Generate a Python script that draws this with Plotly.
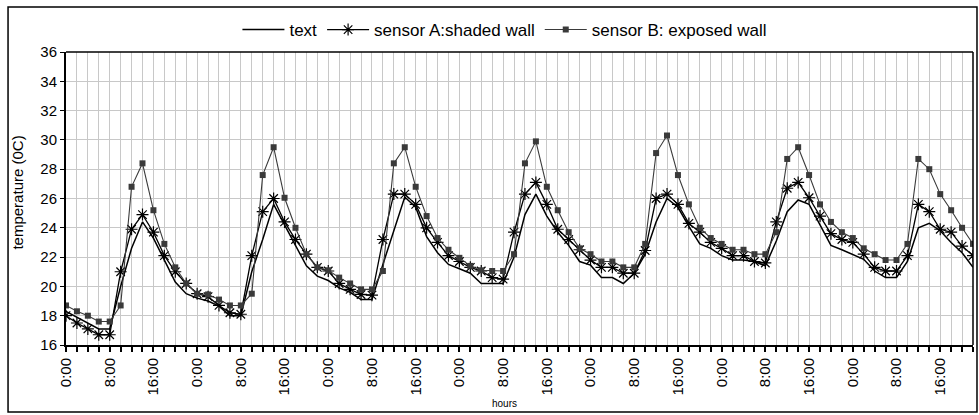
import plotly.graph_objects as go

hours = list(range(84))  # 2-hour steps over 7 days
tick_positions = list(range(0, 84, 4))
tick_labels = ["0:00", "8:00", "16:00"] * 7

text_temp = [
    18.3, 17.9, 17.5, 17.1, 17.1, 20.0, 22.6, 24.4, 23.3, 21.8, 20.3, 19.5,
    19.2, 19.0, 18.65, 18.0, 18.0, 21.0, 23.2, 25.6, 24.2, 22.8, 21.4, 20.7,
    20.4, 19.9, 19.6, 19.1, 19.1, 21.5, 23.8, 26.1, 25.4, 23.4, 22.3, 21.5,
    21.2, 20.9, 20.2, 20.2, 20.2, 22.0, 24.9, 26.3, 24.8, 23.7, 22.8, 21.7,
    21.45, 20.6, 20.6, 20.2, 20.9, 22.2, 24.4, 26.0, 25.4, 24.1, 22.9, 22.6,
    22.1, 21.8, 21.8, 21.7, 21.4, 23.1, 25.1, 25.9, 25.6, 24.2, 22.8, 22.5,
    22.2, 21.85, 21.05, 20.6, 20.6, 21.7, 24.0, 24.3, 23.8, 23.0, 22.3, 21.3,
]
sensor_a = [
    18.0, 17.5, 17.1, 16.7, 16.7, 21.0, 23.9, 24.9, 23.7, 22.1, 21.0, 20.2,
    19.5, 19.3, 18.7, 18.2, 18.1, 22.1, 25.1, 26.0, 24.4, 23.2, 22.2, 21.3,
    21.05, 20.2, 19.8, 19.45, 19.4, 23.2, 26.3, 26.3, 25.6, 24.0, 23.0, 22.1,
    21.7, 21.3, 21.05, 20.6, 20.5, 23.7, 26.3, 27.1, 25.6, 23.9, 23.2, 22.5,
    21.8, 21.3, 21.3, 20.9, 20.9, 22.45, 26.0, 26.3, 25.6, 24.3, 23.7, 23.0,
    22.6, 22.1, 22.1, 21.7, 21.6, 24.4, 26.7, 27.1, 26.05, 24.8, 23.6, 23.2,
    23.0, 22.2, 21.3, 21.05, 21.05, 22.1, 25.6, 25.1, 23.9, 23.7, 22.75, 22.1,
]
sensor_b = [
    18.7, 18.3, 18.0, 17.6, 17.6, 18.7, 26.8, 28.4, 25.2, 22.9, 21.3, 20.2,
    19.5, 19.45, 19.1, 18.7, 18.7, 19.5, 27.6, 29.5, 26.05, 24.0, 22.2, 21.3,
    21.1, 20.6, 20.2, 19.8, 19.8, 21.05, 28.4, 29.5, 26.8, 24.8, 23.3, 22.5,
    21.95, 21.4, 21.1, 21.05, 21.05, 22.2, 28.4, 29.9, 26.8, 25.2, 23.7, 22.6,
    22.2, 21.7, 21.7, 21.3, 21.3, 22.9, 29.1, 30.3, 27.6, 25.6, 24.0, 23.3,
    22.9, 22.5, 22.5, 22.2, 22.2, 23.7, 28.7, 29.5, 27.6, 25.6, 24.4, 23.7,
    23.3, 22.6, 22.2, 21.8, 21.8, 22.9, 28.7, 28.0, 26.3, 25.2, 24.0, 22.9,
]

FONT = "Liberation Sans, Arial, sans-serif"

fig = go.Figure()
fig.add_trace(go.Scatter(
    x=hours, y=text_temp, name="text", mode="lines",
    line=dict(color="black", width=1.5),
))
fig.add_trace(go.Scatter(
    x=hours, y=sensor_a, name="sensor A:shaded wall", mode="lines+markers",
    line=dict(color="black", width=1.3),
    marker=dict(symbol="asterisk-open", size=10, color="black",
                line=dict(color="black", width=1.2)),
))
fig.add_trace(go.Scatter(
    x=hours, y=sensor_b, name="sensor B: exposed wall", mode="lines+markers",
    line=dict(color="#3a3a3a", width=1.1),
    marker=dict(symbol="square", size=6, color="#3a3a3a"),
))

grid = "#c8c8c8"
fig.update_layout(
    width=979, height=415,
    margin=dict(l=66, r=6, t=52, b=70, autoexpand=False),
    paper_bgcolor="white", plot_bgcolor="white",
    font=dict(family=FONT, color="black", size=14),
    showlegend=True,
    legend=dict(orientation="h", x=0.189, xanchor="left", y=1.075, yanchor="middle",
                font=dict(size=17, family=FONT), bgcolor="rgba(0,0,0,0)",
                itemwidth=42, tracegroupgap=0),
    xaxis=dict(
        range=[0, 83], tickmode="array", tickvals=tick_positions, ticktext=tick_labels,
        tickangle=-90, ticks="outside", ticklen=5, tickwidth=2, tickcolor="black",
        showgrid=True, gridcolor=grid, gridwidth=1,
        showline=True, linecolor="black", linewidth=2, mirror=False,
        zeroline=False, tickfont=dict(size=15, family=FONT),
        minor=dict(tickmode="linear", tick0=0, dtick=1, ticks="outside", ticklen=5,
                   tickwidth=2, tickcolor="black", showgrid=True, gridcolor=grid, gridwidth=1),
    ),
    yaxis=dict(
        range=[16, 36], dtick=2, tick0=16, ticks="outside", ticklen=4, tickwidth=1,
        tickcolor="black", showgrid=True, gridcolor=grid, gridwidth=1,
        showline=True, linecolor="black", linewidth=2, zeroline=False,
        tickfont=dict(size=15, family=FONT),
    ),
    annotations=[
        dict(text="hours", xref="paper", yref="paper", x=0.484, y=-0.2, xanchor="center",
             yanchor="middle", showarrow=False, font=dict(size=10, family=FONT)),
        dict(text="temperature (0C)", xref="paper", yref="paper", x=-0.053, y=0.52,
             xanchor="center", yanchor="middle", textangle=-90, showarrow=False,
             font=dict(size=15, family=FONT)),
    ],
    shapes=[
        dict(type="line", xref="paper", yref="paper", x0=1, x1=1, y0=0, y1=1,
             line=dict(color="black", width=1.5)),
        dict(type="line", xref="paper", yref="paper", x0=0, x1=1, y0=1, y1=1,
             line=dict(color="black", width=1.5)),
        dict(type="rect", xref="paper", yref="paper", x0=-0.0639, x1=1.0044,
             y0=-0.2287, y1=1.1536, line=dict(color="black", width=1.5)),
    ],
)

fig.write_html("out.html", config={"displayModeBar": False},
               post_script="document.body.style.margin='0';document.body.style.overflow='hidden';")
